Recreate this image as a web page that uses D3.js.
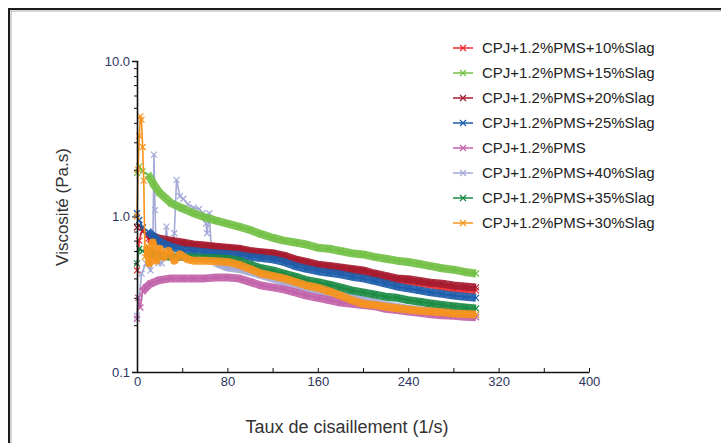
<!DOCTYPE html>
<html>
<head>
<meta charset="utf-8">
<title>viscosite</title>
<script src="https://d3js.org/d3.v7.min.js"></script>
<style>
  body { margin: 0; background: #fff; }
  svg { display: block; font-family: "Liberation Sans", Arial, sans-serif; }
</style>
</head>
<body>
<svg width="721" height="443"></svg>
<script>
// shear rate values (1/s) shared by the smooth part of the curves
var shearTail = [20,30,40,50,60,70,80,90,100,110,120,130,140,150,160,170,180,190,200,210,220,230,240,250,260,270,280,290,300];

// each series: start shear points + tail, viscosity (Pa.s)
var shear10 = [0,2,5,10,15].concat(shearTail);
var visc10 = [0.45,0.7,0.85,0.72,0.7, 0.69,0.68,0.67,0.65,0.64,0.63,0.62,0.61,0.59,0.58,0.57,0.55,0.52,0.5,0.48,0.47,0.46,0.45,0.44,0.42,0.405,0.39,0.385,0.375,0.365,0.355,0.345,0.34,0.335];

var shear15 = [0,2,5,10,15].concat(shearTail);
var visc15 = [1.9,2.1,1.95,1.85,1.6, 1.42,1.22,1.13,1.05,0.99,0.94,0.9,0.86,0.82,0.77,0.73,0.7,0.68,0.66,0.63,0.62,0.6,0.58,0.57,0.55,0.535,0.52,0.51,0.495,0.48,0.465,0.455,0.44,0.43];

var shear20 = [0,2,5,10,15].concat(shearTail);
var visc20 = [0.85,0.88,0.8,0.76,0.74, 0.72,0.7,0.68,0.66,0.65,0.64,0.63,0.62,0.6,0.59,0.58,0.56,0.53,0.51,0.49,0.48,0.47,0.46,0.45,0.43,0.415,0.4,0.395,0.385,0.375,0.37,0.36,0.355,0.35];

var shear25 = [0,2,5,10,15].concat(shearTail);
var visc25 = [1.05,0.95,0.85,0.8,0.74, 0.69,0.64,0.61,0.6,0.59,0.58,0.575,0.565,0.55,0.54,0.53,0.51,0.48,0.46,0.445,0.435,0.425,0.41,0.4,0.385,0.37,0.355,0.345,0.335,0.325,0.318,0.31,0.305,0.3];

var shearPMS = [0,1,3,5,8,12].concat(shearTail);
var viscPMS = [0.22,0.3,0.26,0.33,0.35,0.37, 0.39,0.4,0.4,0.4,0.4,0.405,0.405,0.4,0.38,0.36,0.35,0.34,0.325,0.31,0.3,0.29,0.28,0.275,0.27,0.265,0.255,0.25,0.245,0.24,0.235,0.232,0.23,0.227,0.225];

var shear40 = [0,2,4,8,12,14,15,16,17,19,22,25,26,28,31,33,35,38,41,45,50,55,58,61,62,64,66,70,80,90,100,110,120,130,140,150,160,170,180,190,200,210,220,230,240,250,260,270,280,290,300];
var visc40 = [0.23,0.3,0.43,0.5,0.45,0.6,2.5,1.1,0.55,0.5,0.5,0.7,0.86,0.55,0.6,0.78,1.72,1.35,1.3,1.2,1.14,1.12,1.05,0.9,0.78,1.05,0.58,0.5,0.47,0.46,0.44,0.42,0.4,0.38,0.36,0.345,0.335,0.32,0.31,0.3,0.29,0.28,0.27,0.262,0.255,0.25,0.245,0.24,0.237,0.234,0.232];

var shear35 = [0,2,5,10,15].concat(shearTail);
var visc35 = [0.5,0.62,0.6,0.58,0.57, 0.56,0.55,0.55,0.545,0.54,0.54,0.535,0.52,0.49,0.465,0.45,0.43,0.41,0.39,0.378,0.365,0.35,0.335,0.325,0.315,0.305,0.3,0.29,0.283,0.276,0.27,0.265,0.26,0.256];

var shear30 = [0,1,2,3,4,5,6,7,9,11,14,17,20,24,28,33,38,45,50,60,70,80,90,100,110,120,130,140,150,160,170,180,190,200,210,220,230,240,250,260,270,280,290,300];
var visc30 = [1.0,2.0,3.3,4.4,4.2,2.8,1.7,0.55,0.65,0.5,0.68,0.52,0.62,0.55,0.6,0.52,0.57,0.53,0.52,0.52,0.515,0.51,0.49,0.46,0.43,0.415,0.4,0.38,0.36,0.348,0.33,0.31,0.29,0.275,0.27,0.263,0.257,0.252,0.248,0.245,0.242,0.238,0.236,0.234];

var names = ['CPJ+1.2%PMS+10%Slag','CPJ+1.2%PMS+15%Slag','CPJ+1.2%PMS+20%Slag','CPJ+1.2%PMS+25%Slag','CPJ+1.2%PMS','CPJ+1.2%PMS+40%Slag','CPJ+1.2%PMS+35%Slag','CPJ+1.2%PMS+30%Slag'];
var colors = ['#ee2a2e','#72c045','#a51c30','#1c5dab','#c262aa','#a3aad6','#1b8a43','#f7941d'];
// where the thick noisy band starts for each curve (thin spiky part before)
var bandFrom = [10, 10, 10, 10, 5, 70, 10, 9];
var shears = [shear10, shear15, shear20, shear25, shearPMS, shear40, shear35, shear30];
var viscs = [visc10, visc15, visc20, visc25, viscPMS, visc40, visc35, visc30];

var xTicks = [0,80,160,240,320,400];
var yTicks = [0.1,1,10];

var series = names.map((n, i) => ({
  name: n, color: colors[i], from: bandFrom[i],
  values: shears[i].map((s, j) => ({x: s, y: viscs[i][j]}))
}));

var svg = d3.select('svg');

// frame
svg.append('rect').attr('x', 9).attr('y', 9).attr('width', 740).attr('height', 460)
  .attr('fill', 'none').attr('stroke', '#1a1a1a').attr('stroke-width', 2);
svg.append('rect').attr('x', 11).attr('y', 11).attr('width', 740).attr('height', 460)
  .attr('fill', 'none').attr('stroke', '#aaa').attr('stroke-width', 1);

var x = d3.scaleLinear().domain([0, 400]).range([137, 589]);
var y = d3.scaleLog().domain([0.1, 10]).range([372, 61]);

// draw order: lavender under the rest, orange on top
var order = [5, 0, 4, 2, 3, 1, 6, 7];

var line = d3.line().x(d => x(d.x)).y(d => y(d.y));

var g = svg.append('g');
order.forEach(i => {
  var s = series[i];
  var sg = g.append('g');
  var band = d3.line().x(d => x(d.x)).y(d => y(d.y)).defined(d => d.x >= s.from);
  sg.append('path').datum(s.values).attr('d', band)
    .attr('fill', 'none').attr('stroke', s.color).attr('stroke-width', 8)
    .attr('stroke-opacity', 0.9).attr('stroke-linejoin', 'round');
  sg.append('path').datum(s.values).attr('d', line)
    .attr('fill', 'none').attr('stroke', s.color).attr('stroke-width', 1.6);
  sg.selectAll('path.mk').data(s.values).enter().append('path')
    .attr('class', 'mk')
    .attr('transform', d => 'translate(' + x(d.x) + ',' + y(d.y) + ')')
    .attr('d', 'M-3,-3L3,3M-3,3L3,-3')
    .attr('stroke', s.color).attr('stroke-width', 1.2);
});

// axes
var xAxis = svg.append('g').attr('transform', 'translate(0,372)')
  .call(d3.axisBottom(x).tickValues(xTicks).tickSize(0).tickPadding(5).tickFormat(d3.format('d')));
svg.append('g').attr('transform', 'translate(0,372)')
  .call(d3.axisTop(x).tickValues(d3.range(0, 401, 40)).tickSize(4).tickFormat(''))
  .call(a => a.select('.domain').remove());

var yAxis = svg.append('g').attr('transform', 'translate(137,0)')
  .call(d3.axisLeft(y).tickValues(yTicks).tickSize(5).tickPadding(2).tickFormat(d3.format('.1f')));
var minor = [];
[0.1, 1].forEach(b => { for (var k = 2; k < 10; k++) minor.push(b * k); });
svg.append('g').attr('transform', 'translate(137,0)')
  .call(d3.axisLeft(y).tickValues(minor).tickSize(3).tickFormat(''))
  .call(a => a.select('.domain').remove());

svg.selectAll('.domain').attr('stroke', '#111').attr('stroke-width', 1.6);
svg.selectAll('.tick line').attr('stroke', '#111');
xAxis.selectAll('text').attr('font-size', 13).attr('fill', '#2e3560');
yAxis.selectAll('text').attr('font-size', 13).attr('fill', '#2e3560');

// axis titles
svg.append('text').attr('x', 347).attr('y', 433).attr('text-anchor', 'middle')
  .attr('font-size', 18).attr('fill', '#333').text('Taux de cisaillement (1/s)');
svg.append('text').attr('transform', 'translate(68,207) rotate(-90)').attr('text-anchor', 'middle')
  .attr('font-size', 17).attr('fill', '#333').text('Viscosité (Pa.s)');

// legend
var legend = svg.append('g').selectAll('g').data(series).enter().append('g')
  .attr('transform', (d, i) => 'translate(453,' + (48 + i * 25) + ')');
legend.append('line').attr('x1', 0).attr('x2', 20).attr('y1', 0).attr('y2', 0)
  .attr('stroke', d => d.color).attr('stroke-width', 1.5);
legend.append('path').attr('d', 'M7,-3L13,3M7,3L13,-3')
  .attr('stroke', d => d.color).attr('stroke-width', 1.2);
legend.append('text').attr('x', 29).attr('y', 5).attr('font-size', 15).attr('fill', '#222')
  .text(d => d.name);
</script>
</body>
</html>
